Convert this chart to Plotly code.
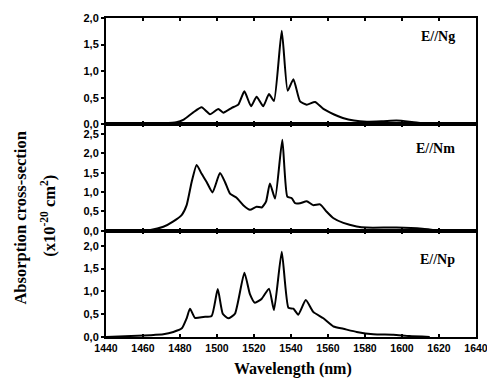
import plotly.graph_objects as go
from plotly.subplots import make_subplots

# ---- data ----
wl_ng = [1440, 1464, 1470, 1478, 1482, 1487, 1491.7, 1496.2, 1500.7, 1503.4, 1508, 1511.5, 1514.8, 1518.4,
         1521.4, 1525, 1528.1, 1530.8, 1535, 1538.2, 1541.3, 1544.9, 1548.5, 1553, 1557.5, 1563, 1568,
         1574, 1581, 1590, 1597, 1604, 1613, 1620]
ab_ng = [0.0, 0.01, 0.02, 0.04, 0.09, 0.22, 0.32, 0.19, 0.29, 0.22, 0.31, 0.37, 0.62, 0.34,
         0.52, 0.34, 0.57, 0.44, 1.76, 0.63, 0.85, 0.43, 0.37, 0.42, 0.29, 0.19, 0.12,
         0.07, 0.05, 0.06, 0.07, 0.05, 0.01, 0.0]

wl_nm = [1440, 1464, 1471, 1476.4, 1481, 1483.6, 1486.3, 1489, 1491.7, 1494.4, 1497.6, 1501.6, 1504.3,
         1507, 1510.6, 1514.2, 1517.8, 1521.4, 1524.2, 1526.5, 1528.6, 1531.4, 1535.3, 1538, 1540.4,
         1542.2, 1544.9, 1548.5, 1552, 1555.7, 1559.3, 1563, 1568.3, 1575.5, 1581, 1597, 1611, 1620]
ab_nm = [0.0, 0.02, 0.1, 0.24, 0.41, 0.66, 1.26, 1.70, 1.47, 1.26, 0.99, 1.49, 1.26,
         0.96, 0.85, 0.66, 0.54, 0.62, 0.60, 0.75, 1.22, 0.83, 2.35, 0.88, 0.84,
         0.71, 0.71, 0.76, 0.66, 0.68, 0.49, 0.32, 0.20, 0.11, 0.08, 0.08, 0.05, 0.0]

wl_np = [1440, 1464, 1471, 1476.4, 1481, 1483.6, 1485.4, 1488.1, 1492.6, 1497.1, 1500.4, 1503.1, 1506.1,
         1509.7, 1514.8, 1517.8, 1520.5, 1524.2, 1528.1, 1530.8, 1535, 1538.6, 1541.3, 1543.9, 1548,
         1552, 1557.5, 1563, 1568.3, 1575.5, 1584.5, 1595.3, 1604, 1615]
ab_np = [0.0, 0.04, 0.06, 0.11, 0.19, 0.41, 0.62, 0.42, 0.44, 0.46, 1.05, 0.51, 0.41,
         0.51, 1.41, 0.94, 0.75, 0.84, 1.06, 0.59, 1.87, 0.64, 0.62, 0.49, 0.81,
         0.55, 0.41, 0.23, 0.18, 0.11, 0.06, 0.05, 0.02, 0.0]

panel_labels = ["E//Ng", "E//Nm", "E//Np"]
y_ranges = [[0, 2.0], [0, 2.75], [0, 2.33]]
x_tickvals = [1440, 1460, 1480, 1500, 1520, 1540, 1560, 1580, 1600, 1620, 1640]

series = [(wl_ng, ab_ng), (wl_nm, ab_nm), (wl_np, ab_np)]

fig = make_subplots(rows=3, cols=1, shared_xaxes=True, vertical_spacing=0)

serif = "Liberation Serif"
sans = "Liberation Sans"

for i, (wl, ab) in enumerate(series):
    fig.add_trace(go.Scatter(x=wl, y=ab, mode="lines",
                             line=dict(color="black", width=2, shape="spline", smoothing=0.5),
                             showlegend=False, hoverinfo="skip"), row=i + 1, col=1)
    fig.update_yaxes(range=y_ranges[i], dtick=0.5, tick0=0, tickformat=".1f",
                     ticks="outside", ticklen=3, tickwidth=1.5, tickcolor="black",
                     showline=True, linecolor="black", linewidth=2, mirror=True,
                     showgrid=False, zeroline=False, ticklabeloverflow="allow",
                     tickfont=dict(family=sans, size=11, color="black", weight="bold"),
                     row=i + 1, col=1)
    fig.update_xaxes(range=[1440, 1640], tickvals=x_tickvals,
                     ticks="inside", ticklen=3, tickwidth=1.5, tickcolor="black",
                     showline=True, linecolor="black", linewidth=2, mirror="ticks",
                     showgrid=False, zeroline=False,
                     showticklabels=(i == 2),
                     tickfont=dict(family=sans, size=10.5, color="black", weight="bold"),
                     row=i + 1, col=1)

label_y = [0.942, 0.591, 0.243]
annotations = []
for lab, yy in zip(panel_labels, label_y):
    annotations.append(dict(text=lab, xref="paper", yref="paper", x=0.949, y=yy,
                            xanchor="right", yanchor="middle", showarrow=False,
                            font=dict(family=serif, size=14, color="black", weight="bold")))

annotations.append(dict(text="Absorption cross-section", xref="paper", yref="paper",
                        x=-0.23, y=0.374, xanchor="center", yanchor="middle", showarrow=False,
                        textangle=-90,
                        font=dict(family=serif, size=16.5, color="black", weight="bold")))
annotations.append(dict(text="(x10<sup>-20</sup> cm<sup>2</sup>)", xref="paper", yref="paper",
                        x=-0.154, y=0.38, xanchor="center", yanchor="middle", showarrow=False,
                        textangle=-90,
                        font=dict(family=serif, size=16.5, color="black", weight="bold")))
annotations.append(dict(text="Wavelength (nm)", xref="paper", yref="paper",
                        x=0.505, y=-0.1, xanchor="center", yanchor="middle", showarrow=False,
                        font=dict(family=serif, size=16, color="black", weight="bold")))

fig.update_layout(width=495, height=383,
                  margin=dict(l=98, r=27, t=4, b=54),
                  plot_bgcolor="white", paper_bgcolor="white",
                  separators=",.",
                  annotations=annotations)

fig.write_html("out.html")
